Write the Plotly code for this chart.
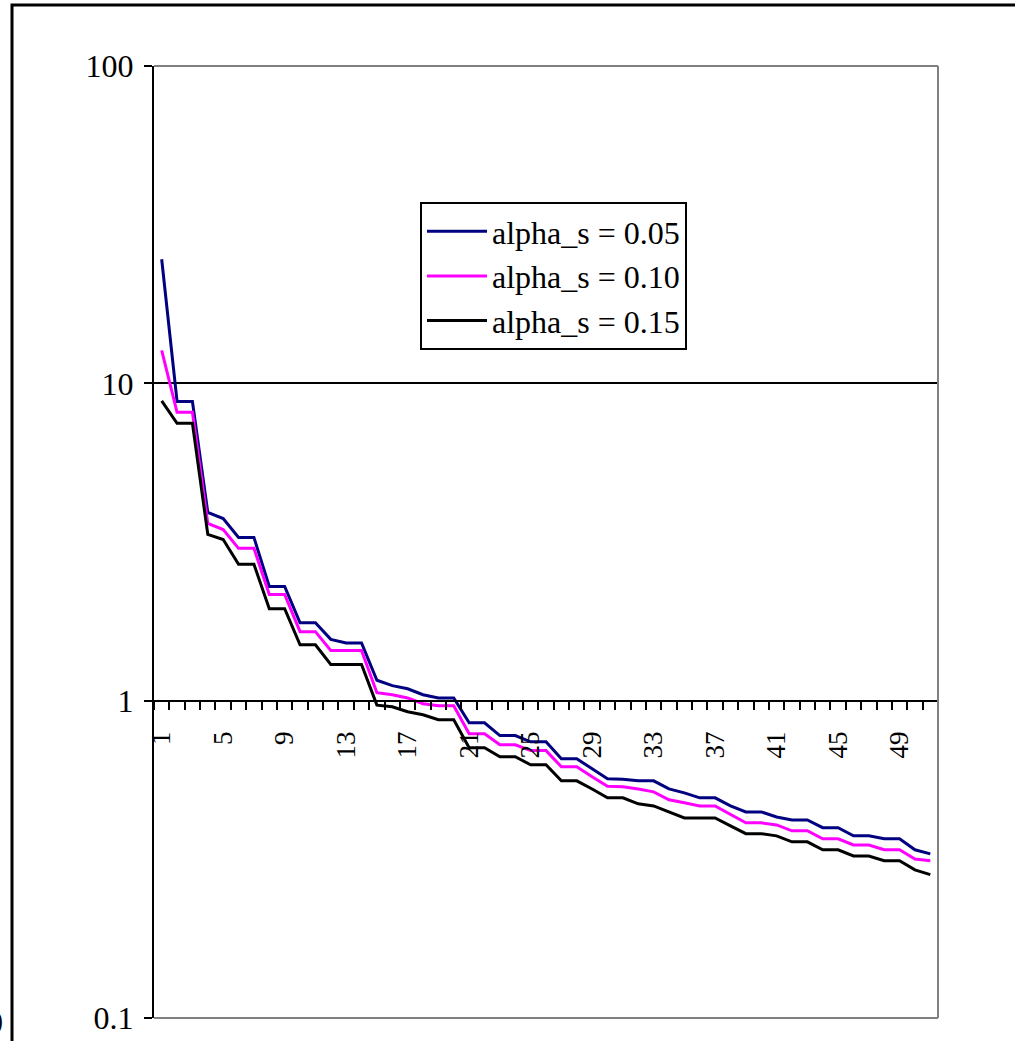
import plotly.graph_objects as go

categories = list(range(1, 52))
tick_labels = [str(c) for c in range(1, 52, 4)]

alpha_005 = [24.6, 8.77, 8.77, 3.92, 3.75, 3.27, 3.27, 2.29, 2.29, 1.76, 1.76, 1.56, 1.52, 1.52,
             1.16, 1.115, 1.09, 1.044, 1.02, 1.02, 0.852, 0.852, 0.776, 0.776, 0.742, 0.742,
             0.656, 0.656, 0.61, 0.567, 0.565, 0.559, 0.559, 0.527, 0.512, 0.494, 0.494, 0.466,
             0.446, 0.446, 0.430, 0.421, 0.421, 0.398, 0.398, 0.375, 0.375, 0.367, 0.367, 0.339, 0.329]
alpha_010 = [12.7, 8.1, 8.1, 3.62, 3.46, 3.02, 3.02, 2.16, 2.16, 1.65, 1.65, 1.44, 1.44, 1.44,
             1.06, 1.044, 1.02, 0.978, 0.964, 0.964, 0.787, 0.787, 0.726, 0.726, 0.696, 0.696,
             0.619, 0.619, 0.576, 0.537, 0.535, 0.527, 0.516, 0.487, 0.477, 0.466, 0.466, 0.437,
             0.412, 0.412, 0.406, 0.389, 0.389, 0.367, 0.367, 0.351, 0.351, 0.339, 0.339, 0.317, 0.313]
alpha_015 = [8.8, 7.48, 7.48, 3.34, 3.22, 2.69, 2.69, 1.95, 1.95, 1.50, 1.50, 1.30, 1.30, 1.30,
             0.968, 0.957, 0.923, 0.903, 0.871, 0.871, 0.711, 0.711, 0.666, 0.666, 0.628, 0.628,
             0.559, 0.559, 0.527, 0.494, 0.494, 0.473, 0.466, 0.446, 0.427, 0.427, 0.427, 0.403,
             0.381, 0.381, 0.375, 0.359, 0.359, 0.339, 0.339, 0.324, 0.324, 0.313, 0.313, 0.293, 0.283]

series_names = ["alpha_s = 0.05", "alpha_s = 0.10", "alpha_s = 0.15"]
series_values = [alpha_005, alpha_010, alpha_015]
series_colors = ["#000080", "#FF00FF", "#000000"]

y_tickvals = [0.1, 1, 10, 100]
y_ticktext = ["0.1", "1", "10", "100"]

SERIF = "Liberation Serif, Times New Roman, serif"

W, H = 1015, 1041
L, R, T, B = 154, 77, 66, 23
PW, PH = W - L - R, H - T - B

fig = go.Figure()
for name, vals, col in zip(series_names, series_values, series_colors):
    fig.add_trace(go.Scatter(x=categories, y=vals, mode="lines", name=name,
                             line=dict(color=col, width=3)))

n = len(categories)
fig.update_layout(
    width=W, height=H,
    margin=dict(l=L, r=R, t=T, b=B, pad=0, autoexpand=False),
    paper_bgcolor="white", plot_bgcolor="white",
    showlegend=True,
    legend=dict(x=(420 - L) / PW, y=1 - (202 - T) / PH, xanchor="left", yanchor="top",
                bgcolor="white", bordercolor="black", borderwidth=2,
                font=dict(family=SERIF, size=32, color="black"),
                itemwidth=60, tracegroupgap=0),
    xaxis=dict(
        type="linear", range=[0.5, n + 0.5],
        anchor="free", position=1/3, automargin=False,
        tickmode="array", tickvals=list(range(1, n + 1, 4)), ticktext=tick_labels,
        ticks="", tickangle=-90, ticklabelstandoff=19,
        tickfont=dict(family=SERIF, size=27, color="black"),
        showline=True, linecolor="black", linewidth=2,
        showgrid=False, zeroline=False,
        minor=dict(tickmode="array", tickvals=[i + 0.5 for i in range(0, n + 1)],
                   ticks="outside", ticklen=8, tickwidth=2, tickcolor="black", showgrid=False),
    ),
    yaxis=dict(
        type="log", range=[-1, 2], automargin=False,
        tickmode="array", tickvals=y_tickvals, ticktext=y_ticktext,
        ticks="outside", ticklen=8, tickwidth=2, tickcolor="black",
        ticklabelstandoff=4,
        tickfont=dict(family=SERIF, size=32, color="black"),
        showline=True, linecolor="black", linewidth=2,
        showgrid=True, gridcolor="black", gridwidth=2,
        zeroline=False,
    ),
)

# plot area border (gray) on top, right, bottom
for x0, y0, x1, y1 in [(0, 1, 1, 1), (1, 0, 1, 1), (0, 0, 1, 0)]:
    fig.add_shape(type="line", xref="paper", yref="paper", x0=x0, y0=y0, x1=x1, y1=y1,
                  line=dict(color="#808080", width=2), layer="above")

# outer frame
fig.add_shape(type="rect", xref="paper", yref="paper",
              x0=(12 - L) / PW, x1=(1030 - L) / PW,
              y0=-(1060 - (T + PH)) / PH, y1=1 + (T - 5) / PH,
              line=dict(color="black", width=3), fillcolor="rgba(0,0,0,0)", layer="above")

# clipped stray character at far left edge
fig.add_annotation(text="0", xref="paper", yref="paper",
                   x=(5 - L) / PW, y=-(1022 - (T + PH)) / PH,
                   xanchor="right", yanchor="middle", showarrow=False,
                   font=dict(family=SERIF, size=32, color="black"))

fig.write_html("out.html", config={"displayModeBar": False},
               post_script="document.body.style.margin='0';document.body.style.overflow='hidden';")
